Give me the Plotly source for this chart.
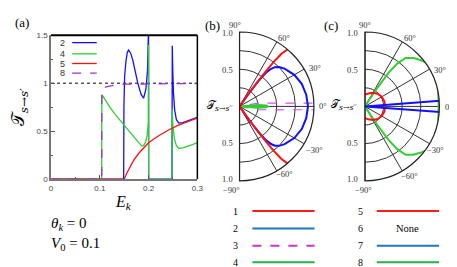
import plotly.graph_objects as go

W, H = 457, 267
def px(x): return x / W
def py(y): return 1 - y / H

# ---------------- Panel (a) data ----------------
blue_x = [0, 0.149, 0.1495, 0.1509, 0.1535, 0.1563, 0.159, 0.1635, 0.1677, 0.1725, 0.1777, 0.1845,
          0.1898, 0.1945, 0.1979, 0.2, 0.2002, 0.248, 0.2482, 0.2486, 0.2495, 0.251, 0.2535, 0.257,
          0.262, 0.27, 0.28, 0.29, 0.3]
blue_y = [0, 0, 0.75, 1.07, 1.22, 1.32, 1.345, 1.31, 1.24, 1.13, 1.005, 0.886,
          0.843, 0.937, 1.138, 1.6, 0, 0, 1.0, 1.39, 1.15, 0.9, 0.72, 0.62,
          0.585, 0.59, 0.61, 0.63, 0.645]
green_x = [0, 0.104, 0.1042, 0.11, 0.12, 0.13, 0.14, 0.15, 0.16, 0.17, 0.18, 0.186, 0.19, 0.194,
           0.197, 0.1995, 0.2, 0.2002, 0.248, 0.2482, 0.25, 0.253, 0.257, 0.262, 0.27, 0.28, 0.29, 0.3]
green_y = [0, 0, 0.88, 0.83, 0.755, 0.685, 0.62, 0.56, 0.5, 0.44, 0.38, 0.345, 0.35, 0.39,
           0.45, 0.6, 1.4, 0, 0, 0.73, 0.55, 0.42, 0.35, 0.32, 0.325, 0.34, 0.36, 0.38]
red_x = [0, 0.15, 0.155, 0.16, 0.17, 0.18, 0.19, 0.2, 0.21, 0.22, 0.24, 0.26, 0.28, 0.3]
red_y = [0, 0, 0.06, 0.11, 0.2, 0.27, 0.33, 0.38, 0.415, 0.45, 0.51, 0.56, 0.6, 0.635]
purple_x = [0, 0.104, 0.1042, 0.107, 0.115, 0.13, 0.15, 0.2, 0.25, 0.3]
purple_y = [0, 0, 0.92, 0.95, 0.965, 0.98, 0.99, 0.995, 0.995, 0.995]
ref_x = [0, 0.3]
ref_y = [1, 1]
a_legend = ["2", "4", "5", "8"]

# ---------------- Panel (b) data ----------------
red_b_theta = [-55, -54.6, -54, -53.3, -52.5, -51.5, -50, -48, -45, -40, -30, -20, -10, 0,
               10, 20, 30, 40, 45, 48, 50, 51.5, 52.5, 53.3, 54, 54.6, 55]
red_b_r = [0, 0.15, 0.35, 0.55, 0.75, 0.9, 1.0, 1.03, 1.04, 1.05, 1.06, 1.07, 1.07, 1.07,
           1.07, 1.07, 1.06, 1.05, 1.04, 1.03, 1.0, 0.9, 0.75, 0.55, 0.35, 0.15, 0]
blue_b_theta = [-55.7, -55.3, -54.5, -53.5, -52, -50, -48, -45, -40, -30, -20, -10, 0,
                10, 20, 30, 40, 45, 48, 50, 52, 53.5, 54.5, 55.3, 55.7]
blue_b_r = [0, 0.1, 0.25, 0.42, 0.57, 0.66, 0.71, 0.75, 0.79, 0.85, 0.89, 0.91, 0.92,
            0.91, 0.89, 0.85, 0.79, 0.75, 0.71, 0.66, 0.57, 0.42, 0.25, 0.1, 0]
purple_b_theta = [-12, -10, -7, -5, -4, -3, -2.5, -2.2, 0, 2.2, 2.5, 3, 4, 5, 7, 10, 12]
purple_b_r = [0, 0.26, 0.37, 0.52, 0.645, 0.86, 1.03, 1.17, 1.17, 1.17, 1.03, 0.86, 0.645, 0.52, 0.37, 0.26, 0]
green_b_theta = [-6, -4, -2, 0, 2, 4, 6]
green_b_r = [0, 0.25, 0.36, 0.38, 0.36, 0.25, 0]

# ---------------- Panel (c) data ----------------
green_c_theta = [-58, -57.5, -56.5, -55, -53, -50, -45, -40, -35, -30, -25, -20, -10, 0,
                 10, 20, 25, 30, 35, 40, 45, 50, 53, 55, 56.5, 57.5, 58]
green_c_r = [0, 0.1, 0.3, 0.55, 0.72, 0.85, 0.92, 0.97, 1.02, 1.06, 1.07, 1.03, 1.0, 0.99,
             1.0, 1.03, 1.07, 1.06, 1.02, 0.97, 0.92, 0.85, 0.72, 0.55, 0.3, 0.1, 0]
red_c_theta = [-100, -90, -75, -60, -45, -30, -15, 0, 15, 30, 45, 60, 75, 90, 100, 130, 180, 230, 260]
red_c_r = [0.12, 0.16, 0.18, 0.21, 0.24, 0.26, 0.27, 0.27, 0.27, 0.26, 0.24, 0.21, 0.18, 0.16, 0.12,
           0.06, 0.03, 0.06, 0.12]
blue_c_theta = [-4.3, -4.3, -4.1, -2.5, 0, 2.5, 4.1, 4.3, 4.3]
blue_c_r = [0, 1.26, 1.22, 1.19, 1.18, 1.19, 1.22, 1.26, 0]

ang_ticks = [-90, -60, -30, 0, 30, 60, 90]
rad_ticks = [0.25, 0.5, 0.75, 1.0]

# bottom legend
leg_left = [("1", "#ff1a1a", "solid"), ("2", "#2176c0", "solid"), ("3", "#cc33cc", "dash"), ("4", "#22b24c", "solid")]
leg_right = [("5", "#ff1a1a", "solid"), ("6", None, None), ("7", "#2176c0", "solid"), ("8", "#22b24c", "solid")]

BLUE = "#1010ff"
GREEN = "#33cc33"
RED = "#ff1010"
PURPLE = "#9933cc"

fig = go.Figure()
fig.add_trace(go.Scatter(x=ref_x, y=ref_y, mode="lines", line=dict(color="black", width=1, dash="dot"), showlegend=False))
fig.add_trace(go.Scatter(x=blue_x, y=blue_y, mode="lines", line=dict(color=BLUE, width=1.3), showlegend=False))
fig.add_trace(go.Scatter(x=green_x, y=green_y, mode="lines", line=dict(color=GREEN, width=1.3), showlegend=False))
fig.add_trace(go.Scatter(x=red_x, y=red_y, mode="lines", line=dict(color=RED, width=1.3), showlegend=False))
fig.add_trace(go.Scatter(x=purple_x, y=purple_y, mode="lines", line=dict(color=PURPLE, width=1.3, dash="dash"), showlegend=False))

# polar b
fig.add_trace(go.Scatterpolar(r=purple_b_r, theta=purple_b_theta, mode="lines", subplot="polar",
                              line=dict(color="#cc55ee", width=1.2, dash="dash"), cliponaxis=False, showlegend=False))
fig.add_trace(go.Scatterpolar(r=green_b_r, theta=green_b_theta, mode="lines", subplot="polar", fill="toself",
                              fillcolor="#33cc33", line=dict(color="#33cc33", width=2), cliponaxis=False, showlegend=False))
fig.add_trace(go.Scatterpolar(r=blue_b_r, theta=blue_b_theta, mode="lines", subplot="polar",
                              line=dict(color=BLUE, width=2), cliponaxis=False, showlegend=False))
fig.add_trace(go.Scatterpolar(r=red_b_r, theta=red_b_theta, mode="lines", subplot="polar",
                              line=dict(color=RED, width=2), cliponaxis=False, showlegend=False))
# polar c
fig.add_trace(go.Scatterpolar(r=green_c_r, theta=green_c_theta, mode="lines", subplot="polar2",
                              line=dict(color=GREEN, width=2), cliponaxis=False, showlegend=False))
fig.add_trace(go.Scatterpolar(r=red_c_r, theta=red_c_theta, mode="lines", subplot="polar2",
                              line=dict(color=RED, width=2), cliponaxis=False, showlegend=False))
fig.add_trace(go.Scatterpolar(r=blue_c_r, theta=blue_c_theta, mode="lines", subplot="polar2",
                              line=dict(color=BLUE, width=2), cliponaxis=False, showlegend=False))

def polar_layout(x0, x1):
    return dict(
        domain=dict(x=[px(x0), px(x1)], y=[py(174.7), py(20.7)]),
        sector=[-90, 90],
        bgcolor="white",
        radialaxis=dict(range=[0, 1], tickvals=rad_ticks, showticklabels=False, ticks="",
                        showline=False, gridcolor="#333333", gridwidth=1),
        angularaxis=dict(tickvals=ang_ticks, showticklabels=False, ticks="", rotation=0,
                         direction="counterclockwise", showline=True, linecolor="#222222", linewidth=1.2,
                         gridcolor="#333333", gridwidth=1),
    )

fig.update_layout(
    width=W, height=H, margin=dict(l=0, r=0, t=0, b=0),
    paper_bgcolor="white", plot_bgcolor="white",
    xaxis=dict(domain=[px(41.7), px(190.7)], range=[0, 0.3], tickvals=[0, 0.1, 0.2, 0.3],
               ticktext=["0", "0.1", "0.2", "0.3"], ticks="inside", ticklen=4, tickcolor="#555",
               minor=dict(ticks="inside", ticklen=2.5, dtick=0.05, tickcolor="#555"),
               showgrid=False, zeroline=False, showline=True, linecolor="#777", linewidth=1.5,
               tickfont=dict(family="Liberation Sans", size=8, color="#444"), anchor="y"),
    yaxis=dict(domain=[py(173), py(24)], range=[0, 1.5], tickvals=[0, 0.5, 1, 1.5],
               ticktext=["0", "0.5", "1", "1.5"], ticks="inside", ticklen=4, tickcolor="#555",
               minor=dict(ticks="inside", ticklen=2.5, dtick=0.25, tickcolor="#555"),
               showgrid=False, zeroline=False, showline=True, linecolor="#777", linewidth=1.5,
               tickfont=dict(family="Liberation Sans", size=8, color="#444"), anchor="x",
               title=dict(text="𝒯<sub><i>s</i>→<i>s</i>′</sub>", standoff=8,
                          font=dict(family="DejaVu Serif", size=17, color="black"))),
    polar=polar_layout(233, 310),
    polar2=polar_layout(360.7, 437.7),
)

# frame top/right for (a)
fig.add_shape(type="line", xref="x domain", yref="y domain", x0=0, x1=1, y0=1, y1=1, line=dict(color="black", width=2))
fig.add_shape(type="line", xref="x domain", yref="y domain", x0=1, x1=1, y0=0, y1=1, line=dict(color="black", width=1.5))

ann = []
def T(x, y, text, size=9, family="Liberation Serif", xa="center", color="#333"):
    ann.append(dict(x=px(x), y=py(y), xref="paper", yref="paper", text=text, showarrow=False,
                    xanchor=xa, yanchor="middle", font=dict(family=family, size=size, color=color)))

# panel labels
T(3, 11, "(a)", 13, xa="left", color="black")
T(196, 14, "(b)", 13, xa="left", color="black")
T(318, 14, "(c)", 13, xa="left", color="black")

# panel (a) legend
for i, lab in enumerate(a_legend):
    yy = [31.7, 43.3, 53.3, 63.3][i]
    T(58.5, yy, lab, 9, family="Liberation Sans", xa="right", color="#333")
leg_cols = [(BLUE, "solid"), (GREEN, "solid"), (RED, "solid"), (PURPLE, "dash")]
for i, (c, d) in enumerate(leg_cols):
    yy = [31.7, 43.3, 53.3, 63.3][i]
    fig.add_shape(type="line", xref="paper", yref="paper", x0=px(63.3), x1=px(88.3), y0=py(yy), y1=py(yy),
                  line=dict(color=c, width=1.3, dash=d))

T(116, 197, "<i>E<sub>k</sub></i>", 16, color="black")
T(40, 219, "<i>θ<sub>k</sub></i> = 0", 15, xa="left", color="black")
T(40, 240, "<i>V</i><sub>0</sub> = 0.1", 15, xa="left", color="black")

# polar labels (b)
for (x, y, t) in [(229, 13, "90°"), (279, 27, "60°"), (310, 58, "30°"), (319, 97, "0°"),
                  (310, 143, "−30°"), (279, 168, "−60°"), (225, 184, "−90°")]:
    T(x, y, t, 8.5)
for (y, t) in [(22, "1.0"), (60, "0.5"), (136, "0.5"), (173, "1.0")]:
    T(229, y, t, 8.5, xa="right")
T(214, 97, "𝒯<sub><i>s</i>→<i>s</i>′′</sub>", 11, family="DejaVu Serif", color="black")
# polar labels (c)
for (x, y, t) in [(361, 13, "90°"), (407, 27, "60°"), (438, 60, "30°"), (447, 98, "0°"),
                  (433, 143, "−30°"), (407, 170, "−60°"), (360, 184, "−90°")]:
    T(x, y, t, 8.5)
for (y, t) in [(22, "1.0"), (60, "0.5"), (136, "0.5"), (173, "1.0")]:
    T(356, y, t, 8.5, xa="right")
T(340, 96, "𝒯<sub><i>s</i>→<i>s</i>′′</sub>", 11, family="DejaVu Serif", color="black")

# bottom legend
rows = [206, 224, 242, 259]
for i, (lab, c, d) in enumerate(leg_left):
    T(230, rows[i], lab, 10, color="black")
    fig.add_shape(type="line", xref="paper", yref="paper", x0=px(246.7), x1=px(310), y0=py(rows[i]), y1=py(rows[i]),
                  line=dict(color=c, width=2, dash=d))
for i, (lab, c, d) in enumerate(leg_right):
    T(356.7, rows[i], lab, 10, color="black")
    if c is None:
        T(405, rows[i], "None", 10.5, color="black")
    else:
        fig.add_shape(type="line", xref="paper", yref="paper", x0=px(373.3), x1=px(436.7), y0=py(rows[i]), y1=py(rows[i]),
                      line=dict(color=c, width=2, dash=d))

fig.update_layout(annotations=ann)
fig.write_html("out.html")
